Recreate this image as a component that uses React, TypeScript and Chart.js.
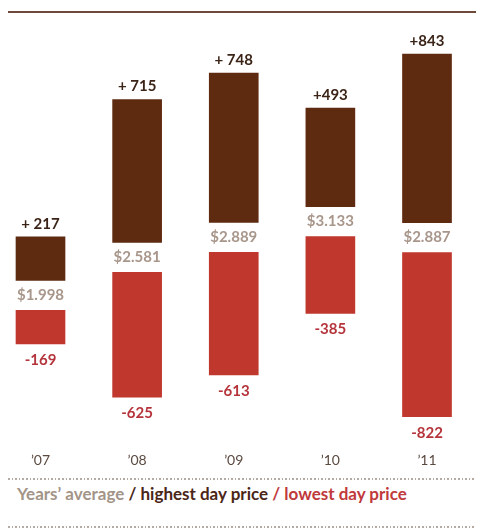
import React, { useEffect, useRef } from 'react';
import { Chart, registerables } from 'chart.js';

Chart.register(...registerables);

const years = ['’07', '’08', '’09', '’10', '’11'];
const averagePrice = [1.998, 2.581, 2.889, 3.133, 2.887];
const highestDelta = [217, 715, 748, 493, 843];
const lowestDelta = [169, 625, 613, 385, 822];
const highestLabels = ['+ 217', '+ 715', '+ 748', '+493', '+843'];

const AVG_SCALE = 325; // chart units per dollar of average price
const HALF_GAP = 75; // half the gap around the average label

const centres = averagePrice.map((a) => a * AVG_SCALE);
const highBars = centres.map((c, i) => [c + HALF_GAP, c + HALF_GAP + highestDelta[i]]);
const lowBars = centres.map((c, i) => [c - HALF_GAP - lowestDelta[i], c - HALF_GAP]);

const BROWN = '#5e2a10';
const RED = '#c0372e';
const FONT = 'Lato, "Open Sans", sans-serif';

const labelPlugin = {
  id: 'valueLabels',
  afterDatasetsDraw(chart: any) {
    const ctx = chart.ctx;
    const hi = chart.getDatasetMeta(0).data;
    const lo = chart.getDatasetMeta(1).data;
    ctx.save();
    ctx.textAlign = 'center';
    ctx.textBaseline = 'middle';
    hi.forEach((bar: any, i: number) => {
      const h = bar.getProps(['x', 'y', 'base'], true);
      const l = lo[i].getProps(['x', 'y', 'base'], true);
      const hTop = Math.min(h.y, h.base);
      const hBottom = Math.max(h.y, h.base);
      const lTop = Math.min(l.y, l.base);
      const lBottom = Math.max(l.y, l.base);
      ctx.font = `bold 15px ${FONT}`;
      ctx.fillStyle = '#3b2417';
      ctx.fillText(highestLabels[i], h.x, hTop - 13);
      ctx.fillStyle = '#a8968b';
      ctx.fillText('$' + averagePrice[i].toFixed(3), h.x, (hBottom + lTop) / 2);
      ctx.fillStyle = '#b5343b';
      ctx.fillText('-' + lowestDelta[i], l.x, lBottom + 16);
    });
    ctx.restore();
  },
};

function BarChart() {
  const ref = useRef<HTMLCanvasElement>(null);
  useEffect(() => {
    if (!ref.current) return;
    const chart = new Chart(ref.current, {
      type: 'bar',
      data: {
        labels: years,
        datasets: [
          {
            label: 'highest day price',
            data: highBars as any,
            backgroundColor: BROWN,
            barThickness: 49,
            grouped: false,
            clip: false,
          } as any,
          {
            label: 'lowest day price',
            data: lowBars as any,
            backgroundColor: RED,
            barThickness: 49,
            grouped: false,
            clip: false,
          } as any,
        ],
      },
      options: {
        animation: false,
        responsive: true,
        maintainAspectRatio: false,
        layout: { padding: { left: 32.5, right: 49, top: 12.44, bottom: 0 } },
        plugins: { legend: { display: false }, tooltip: { enabled: false } },
        scales: {
          x: {
            type: 'category',
            offset: false,
            grid: { display: false, drawTicks: false },
            border: { display: false },
            ticks: { color: '#5b4a40', font: { family: FONT, size: 14 }, padding: 7 },
            afterFit: (scale: any) => {
              scale.height = 25;
            },
          },
          y: { display: false, min: -100, max: 2000 },
        },
      },
      plugins: [labelPlugin],
    });
    return () => chart.destroy();
  }, []);
  return (
    <div style={{ position: 'relative', width: 468, height: 457 }}>
      <canvas ref={ref} />
    </div>
  );
}

const dotted: React.CSSProperties = {
  height: 1.5,
  backgroundImage: 'repeating-linear-gradient(to right, #b3aaa3 0 1.6px, transparent 1.6px 3.6px)',
};

export default function App() {
  return (
    <div style={{ width: 472, paddingTop: 3 }}>
      <div style={{ borderTop: '2px solid #6e4a3a' }} />
      <BarChart />
      <div style={{ ...dotted, marginTop: 8 }} />
      <div
        style={{
          marginTop: 4.5,
          paddingLeft: 9,
          height: 20,
          lineHeight: '20px',
          fontFamily: FONT,
          fontWeight: 'bold',
          fontSize: 17,
          whiteSpace: 'nowrap',
        }}
      >
        <span style={{ color: '#a39488' }}>Years’ average</span>
        <span style={{ color: '#4b2617' }}> / highest day price</span>
        <span style={{ color: '#c0393b' }}> / lowest day price</span>
      </div>
      <div style={{ ...dotted, marginTop: 22 }} />
    </div>
  );
}
